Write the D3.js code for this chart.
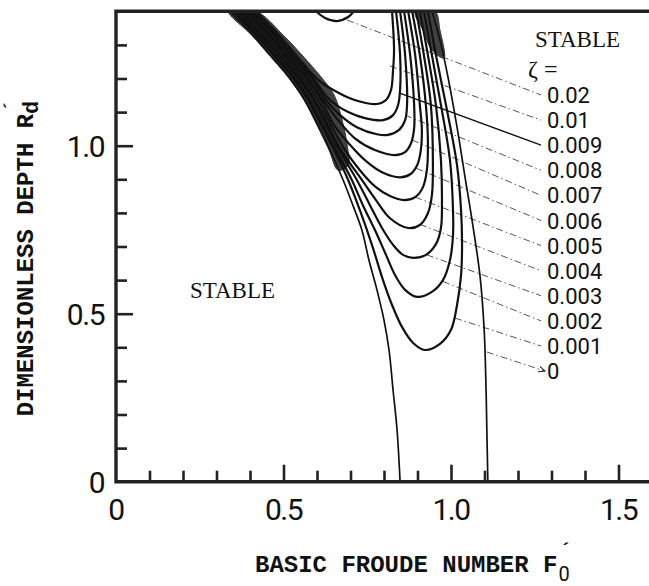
<!DOCTYPE html>
<html>
<head>
<meta charset="utf-8">
<script src="https://cdn.jsdelivr.net/npm/d3@7"></script>
<style>
  body { margin: 0; background: #fff; }
  svg { display: block; }
</style>
</head>
<body>
<svg id="chart"></svg>
<script>
// zeta values, top of the legend first
const zetaLabels = ["0.02", "0.01", "0.009", "0.008", "0.007", "0.006", "0.005", "0.004", "0.003", "0.002", "0.001", "0"];

// each curve as [F0', Rd']
const z020 = [[0.597,1.40],[0.624,1.380],[0.660,1.371],[0.693,1.383],[0.710,1.40]];
const z010 = [[0.418,1.40],[0.487,1.329],[0.537,1.270],[0.603,1.196],[0.654,1.163],[0.704,1.139],[0.746,1.127],[0.779,1.124],[0.806,1.136],[0.821,1.166],[0.827,1.225],[0.830,1.285],[0.824,1.40]];
const z009 = [[0.409,1.40],[0.478,1.329],[0.528,1.270],[0.588,1.201],[0.639,1.136],[0.693,1.100],[0.743,1.082],[0.797,1.076],[0.827,1.091],[0.842,1.121],[0.848,1.166],[0.848,1.270],[0.836,1.40]];
const z008 = [[0.403,1.40],[0.472,1.329],[0.522,1.270],[0.582,1.201],[0.627,1.136],[0.669,1.091],[0.719,1.055],[0.779,1.034],[0.812,1.032],[0.845,1.047],[0.863,1.076],[0.869,1.127],[0.863,1.270],[0.848,1.40]];
const z007 = [[0.394,1.40],[0.463,1.329],[0.513,1.270],[0.573,1.201],[0.618,1.136],[0.663,1.076],[0.713,1.022],[0.773,0.987],[0.833,0.972],[0.863,0.981],[0.881,1.008],[0.890,1.052],[0.890,1.121],[0.878,1.270],[0.860,1.40]];
const z006 = [[0.388,1.40],[0.457,1.329],[0.507,1.270],[0.567,1.201],[0.612,1.136],[0.651,1.061],[0.699,1.002],[0.743,0.957],[0.794,0.921],[0.848,0.906],[0.878,0.915],[0.899,0.942],[0.910,0.987],[0.913,1.047],[0.907,1.121],[0.893,1.270],[0.872,1.40]];
const z005 = [[0.379,1.40],[0.448,1.329],[0.499,1.270],[0.558,1.201],[0.603,1.136],[0.642,1.061],[0.684,0.987],[0.728,0.927],[0.773,0.879],[0.818,0.850],[0.860,0.838],[0.893,0.847],[0.916,0.876],[0.928,0.927],[0.931,1.017],[0.925,1.121],[0.907,1.270],[0.884,1.40]];
const z004 = [[0.370,1.40],[0.439,1.329],[0.490,1.270],[0.549,1.201],[0.594,1.136],[0.633,1.061],[0.672,0.987],[0.734,0.898],[0.776,0.838],[0.818,0.784],[0.872,0.755],[0.907,0.764],[0.931,0.799],[0.943,0.853],[0.946,0.942],[0.940,1.121],[0.919,1.270],[0.896,1.40]];
const z003 = [[0.364,1.40],[0.433,1.329],[0.484,1.270],[0.543,1.201],[0.588,1.136],[0.627,1.061],[0.666,0.987],[0.719,0.898],[0.758,0.823],[0.794,0.755],[0.827,0.705],[0.857,0.675],[0.887,0.666],[0.925,0.675],[0.955,0.707],[0.970,0.755],[0.973,0.838],[0.970,0.957],[0.955,1.121],[0.931,1.270],[0.907,1.40]];
const z002 = [[0.355,1.40],[0.424,1.329],[0.475,1.270],[0.534,1.201],[0.579,1.136],[0.618,1.061],[0.657,0.987],[0.704,0.898],[0.737,0.823],[0.773,0.749],[0.806,0.675],[0.833,0.615],[0.863,0.571],[0.899,0.550],[0.943,0.565],[0.976,0.600],[0.997,0.660],[1.006,0.734],[1.006,0.808],[0.997,0.957],[0.970,1.121],[0.943,1.270],[0.919,1.40]];
const z001 = [[0.349,1.40],[0.418,1.329],[0.469,1.270],[0.528,1.201],[0.573,1.136],[0.612,1.061],[0.651,0.987],[0.693,0.898],[0.728,0.808],[0.764,0.705],[0.797,0.600],[0.824,0.526],[0.854,0.460],[0.887,0.413],[0.922,0.392],[0.967,0.410],[1.000,0.452],[1.018,0.526],[1.030,0.615],[1.033,0.705],[1.030,0.808],[1.018,0.942],[0.985,1.121],[0.955,1.270],[0.931,1.40]];
const z000Left = [[0.340,1.40],[0.409,1.329],[0.460,1.270],[0.519,1.201],[0.564,1.136],[0.603,1.061],[0.639,0.987],[0.678,0.898],[0.707,0.823],[0.734,0.749],[0.755,0.660],[0.779,0.571],[0.800,0.481],[0.815,0.392],[0.827,0.273],[0.839,0.154],[0.848,0]];
const z000Right = [[0.943,1.40],[0.967,1.315],[0.991,1.204],[1.018,1.055],[1.042,0.906],[1.066,0.758],[1.087,0.609],[1.099,0.452],[1.104,0.303],[1.107,0.154],[1.110,0]];

// where the curves crowd into solid bands
const leftBand = [[0.336,1.40],[0.405,1.329],[0.457,1.270],[0.516,1.201],[0.561,1.136],[0.600,1.061],[0.636,0.987],[0.663,0.927],[0.693,0.942],[0.690,1.002],[0.675,1.076],[0.651,1.151],[0.615,1.201],[0.555,1.270],[0.499,1.329],[0.418,1.40]];
const rightBand = [[0.893,1.40],[0.952,1.40],[0.967,1.344],[0.979,1.261],[0.943,1.285],[0.919,1.338]];

// point on each curve where its label line starts
const leaderStart = [[0.690,1.374],[0.818,1.237],[0.845,1.157],[0.863,1.091],[0.884,1.017],[0.896,0.933],[0.893,0.847],[0.907,0.766],[0.928,0.675],[0.976,0.596],[1.012,0.487],[1.107,0.386]];

const xMinorTicks = [0.1,0.2,0.3,0.4,0.6,0.7,0.8,0.9,1.1,1.2,1.3,1.4];
const xMajorTicks = [0.5, 1.0, 1.5];
const xTickLabels = ["0", "0.5", "1.0", "1.5"];
const yMinorTicks = [0.1,0.2,0.3,0.4,0.6,0.7,0.8,0.9,1.1,1.2,1.3];
const yMajorTicks = [0.5, 1.0];
const yTickLabels = ["0", "0.5", "1.0"];

const width = 649, height = 586;
const svg = d3.select("#chart").attr("width", width).attr("height", height);

const x = d3.scaleLinear().domain([0, 1.6]).range([116, 652]);
const y = d3.scaleLinear().domain([0, 1.4]).range([481.7, 11.3]);

svg.append("defs").append("clipPath").attr("id", "plot")
    .append("rect")
    .attr("x", x(0)).attr("y", y(1.4))
    .attr("width", width - x(0)).attr("height", y(0) - y(1.4));

svg.select("defs").append("marker")
    .attr("id", "arrow")
    .attr("viewBox", "0 0 10 10")
    .attr("refX", 9).attr("refY", 5)
    .attr("markerWidth", 7).attr("markerHeight", 7)
    .attr("orient", "auto")
    .append("path")
    .attr("d", "M0,1 L9,5 L0,9")
    .attr("fill", "none")
    .attr("stroke", "#222")
    .attr("stroke-width", 1.4);

const plot = svg.append("g").attr("clip-path", "url(#plot)");

const line = d3.line()
    .x(d => x(d[0]))
    .y(d => y(d[1]))
    .curve(d3.curveCatmullRom.alpha(0.5));

// shaded bands
plot.selectAll(".band")
    .data([leftBand, rightBand])
    .join("path")
    .attr("class", "band")
    .attr("d", d => d3.line().x(p => x(p[0])).y(p => y(p[1])).curve(d3.curveCatmullRomClosed)(d))
    .attr("fill", "#404040")
    .attr("stroke", "#333")
    .attr("stroke-width", 1);

// label positions (px) in the right hand column
const labelX = 547;
const labelY = i => 103 + i * 25.1;

// leader lines from curves to labels
plot.selectAll(".leader")
    .data(leaderStart)
    .join("line")
    .attr("class", "leader")
    .attr("x1", d => x(d[0]))
    .attr("y1", d => y(d[1]))
    .attr("x2", (d, i) => i === 11 ? labelX - 2 : labelX - 6)
    .attr("y2", (d, i) => labelY(i) - 8)
    .attr("stroke", (d, i) => i === 2 ? "#111" : "#555")
    .attr("stroke-width", (d, i) => i === 2 ? 1.3 : 1)
    .attr("stroke-dasharray", (d, i) => i === 2 ? null : "7,3,1.5,3")
    .attr("marker-end", (d, i) => i === 11 ? "url(#arrow)" : null);

const curves = [z020, z010, z009, z008, z007, z006, z005, z004, z003, z002, z001];
plot.selectAll(".curve")
    .data(curves)
    .join("path")
    .attr("class", "curve")
    .attr("d", line)
    .attr("fill", "none")
    .attr("stroke", "#111")
    .attr("stroke-width", 2.2);

plot.selectAll(".neutral")
    .data([z000Left, z000Right])
    .join("path")
    .attr("class", "neutral")
    .attr("d", line)
    .attr("fill", "none")
    .attr("stroke", "#111")
    .attr("stroke-width", 1.7);

// axes: ticks point inwards
const tickStyle = g => {
    g.select(".domain").remove();
    g.selectAll(".tick line").attr("stroke", "#222").attr("stroke-width", 2.6);
};

svg.append("g")
    .attr("transform", `translate(0,${y(0)})`)
    .call(d3.axisBottom(x).tickValues(xMinorTicks).tickSize(-11).tickFormat(""))
    .call(tickStyle);
svg.append("g")
    .attr("transform", `translate(0,${y(0)})`)
    .call(d3.axisBottom(x).tickValues(xMajorTicks).tickSize(-17).tickFormat(""))
    .call(tickStyle);
svg.append("g")
    .attr("transform", `translate(${x(0)},0)`)
    .call(d3.axisLeft(y).tickValues(yMinorTicks).tickSize(-11).tickFormat(""))
    .call(tickStyle);
svg.append("g")
    .attr("transform", `translate(${x(0)},0)`)
    .call(d3.axisLeft(y).tickValues(yMajorTicks).tickSize(-17).tickFormat(""))
    .call(tickStyle);

// frame lines
svg.append("path")
    .attr("d", `M${width},${y(0)} H${x(0)} V${y(1.4)} H${width}`)
    .attr("fill", "none")
    .attr("stroke", "#222")
    .attr("stroke-width", 3.4);

// tick labels
svg.selectAll(".xlab")
    .data(xTickLabels)
    .join("text")
    .attr("class", "xlab")
    .attr("x", d => x(+d))
    .attr("y", 520)
    .attr("text-anchor", "middle")
    .attr("font-family", "Roboto, sans-serif")
    .attr("font-size", 30)
    .attr("letter-spacing", -1.5)
    .attr("fill", "#111")
    .text(d => d);

svg.selectAll(".ylab")
    .data(yTickLabels)
    .join("text")
    .attr("class", "ylab")
    .attr("x", 104)
    .attr("y", d => y(+d))
    .attr("dy", "0.36em")
    .attr("text-anchor", "end")
    .attr("font-family", "Roboto, sans-serif")
    .attr("font-size", 30)
    .attr("letter-spacing", -1.5)
    .attr("fill", "#111")
    .text(d => d);

// zeta labels
svg.selectAll(".zlab")
    .data(zetaLabels)
    .join("text")
    .attr("class", "zlab")
    .attr("x", labelX)
    .attr("y", (d, i) => labelY(i))
    .attr("font-family", "Roboto, sans-serif")
    .attr("font-size", 22)
    .attr("fill", "#111")
    .text(d => d);

// region annotations
const serif = "'Liberation Serif', 'DejaVu Serif', serif";
svg.append("text")
    .attr("x", 190).attr("y", 298)
    .attr("font-family", serif).attr("font-size", 23)
    .attr("fill", "#111")
    .text("STABLE");
svg.append("text")
    .attr("x", 535).attr("y", 47)
    .attr("font-family", serif).attr("font-size", 23)
    .attr("fill", "#111")
    .text("STABLE");
svg.append("text")
    .attr("x", 528).attr("y", 77)
    .attr("font-family", serif).attr("font-size", 24)
    .attr("fill", "#111")
    .text("ζ =");

// axis titles
const mono = "'Liberation Mono', 'DejaVu Sans Mono', monospace";
const xTitle = svg.append("text")
    .attr("x", 255).attr("y", 572)
    .attr("font-family", mono).attr("font-weight", "bold").attr("font-size", 24)
    .attr("fill", "#111");
xTitle.append("tspan").text("BASIC FROUDE NUMBER F");
xTitle.append("tspan")
    .attr("dx", 1).attr("dy", 9)
    .attr("font-family", "Roboto, sans-serif").attr("font-weight", "normal").attr("font-size", 20)
    .text("0");
xTitle.append("tspan")
    .attr("dx", -10).attr("dy", -24).attr("font-size", 20)
    .text("´");

const yTitle = svg.append("text")
    .attr("transform", "translate(33,258) rotate(-90)")
    .attr("text-anchor", "middle")
    .attr("font-family", mono).attr("font-weight", "bold").attr("font-size", 24)
    .attr("fill", "#111");
yTitle.append("tspan").text("DIMENSIONLESS DEPTH R");
yTitle.append("tspan").attr("dy", 5).attr("font-size", 22).text("d");
yTitle.append("tspan").attr("dx", -11).attr("dy", -20).attr("font-size", 20).text("´");
</script>
</body>
</html>
